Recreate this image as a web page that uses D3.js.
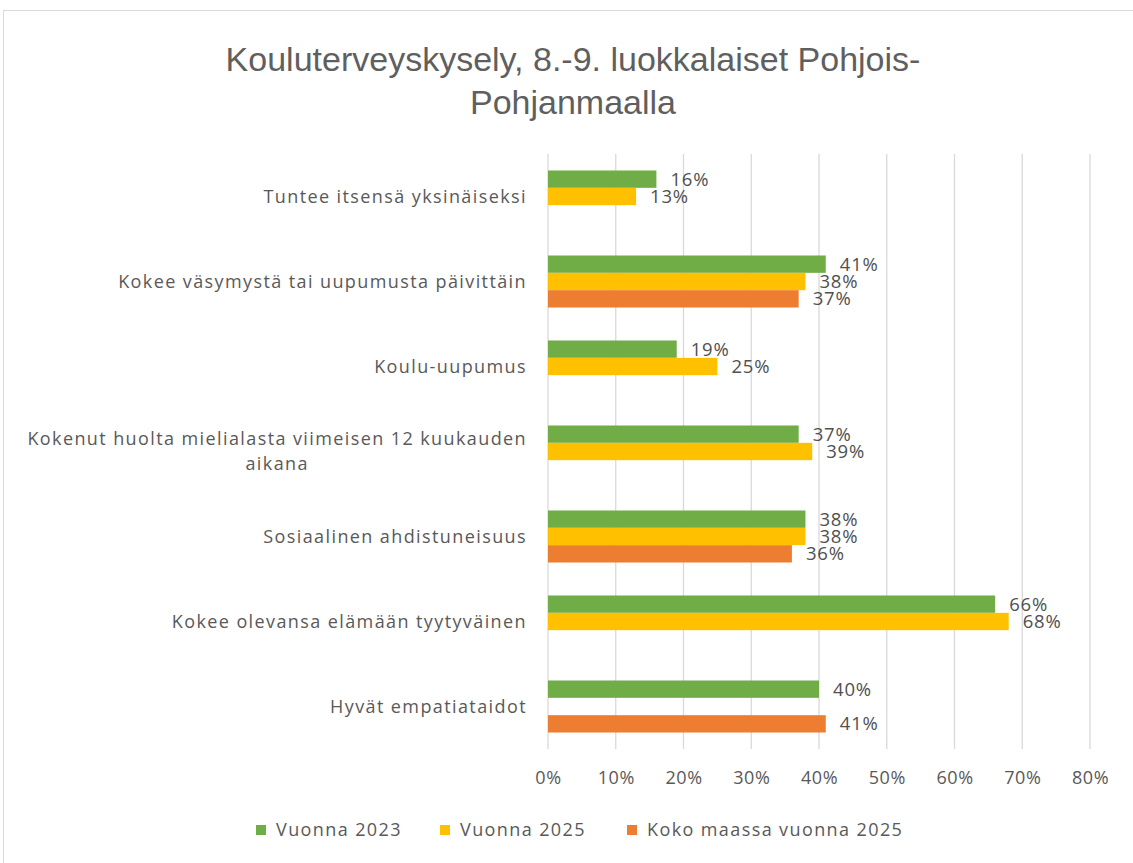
<!DOCTYPE html>
<html><head><meta charset="utf-8">
<script src="https://cdn.jsdelivr.net/npm/d3@7"></script>
<style>body{margin:0;background:#fff;} svg{display:block;}</style>
</head><body>
<svg id="chart" width="1133" height="863"></svg>
<script>
const titleLines = ["Kouluterveyskysely, 8.-9. luokkalaiset Pohjois-", "Pohjanmaalla"];
const categories = [
  ["Tuntee itsensä yksinäiseksi"],
  ["Kokee väsymystä tai uupumusta päivittäin"],
  ["Koulu-uupumus"],
  ["Kokenut huolta mielialasta viimeisen 12 kuukauden", "aikana"],
  ["Sosiaalinen ahdistuneisuus"],
  ["Kokee olevansa elämään tyytyväinen"],
  ["Hyvät empatiataidot"]
];
const seriesNames = ["Vuonna 2023", "Vuonna 2025", "Koko maassa vuonna 2025"];
const v2023 = [16, 41, 19, 37, 38, 66, 40];
const v2025 = [13, 38, 25, 39, 38, 68, null];
const koko2025 = [null, 37, null, null, 36, null, 41];
const xTicks = [0, 10, 20, 30, 40, 50, 60, 70, 80];
const colors = ["#70AD47", "#FFC000", "#ED7D31"];

const svg = d3.select("#chart");
const textCol = "#595959";
const font = "'Open Sans', sans-serif";

// chart border
svg.append("rect").attr("x", 3.5).attr("y", 10.5).attr("width", 1140).attr("height", 870)
  .attr("fill", "none").attr("stroke", "#d9d9d9").attr("stroke-width", 1);

// title
svg.append("g").selectAll("text").data(titleLines).join("text")
  .attr("x", 573).attr("y", (d, i) => 71 + i * 43)
  .attr("text-anchor", "middle")
  .attr("font-family", "'Liberation Sans Narrow', 'Arial Narrow', sans-serif")
  .attr("font-size", 34).attr("fill", "#5f5f5f")
  .text(d => d);

const plot = {left: 548, right: 1090, top: 154, bottom: 749};
const x = d3.scaleLinear().domain([0, 80]).range([plot.left, plot.right]);
const idx = categories.map((d, i) => i);
const y = d3.scaleBand().domain(idx).range([plot.top, plot.bottom]).paddingInner(0.388).paddingOuter(0.194);
const yS = d3.scaleBand().domain([0, 1, 2]).range([0, y.bandwidth()]);

// grid
svg.append("g").selectAll("line").data(xTicks).join("line")
  .attr("x1", d => x(d)).attr("x2", d => x(d))
  .attr("y1", plot.top).attr("y2", plot.bottom)
  .attr("stroke", "#d9d9d9").attr("stroke-width", 1.3);

// x axis labels
const xAxis = d3.axisBottom(x).tickValues(xTicks).tickFormat(d => d + "%").tickSize(0).tickPadding(0);
const gx = svg.append("g").attr("transform", `translate(0,${plot.bottom + 22})`).call(xAxis);
gx.select(".domain").remove();
gx.selectAll("text").attr("font-family", font).attr("font-size", 18).attr("letter-spacing", 0.6)
  .attr("fill", textCol);

// bars
const allSeries = [v2023, v2025, koko2025];
const flat = [];
allSeries.forEach((s, si) => s.forEach((v, ci) => { if (v !== null) flat.push({si, ci, v}); }));
svg.append("g").selectAll("rect").data(flat).join("rect")
  .attr("x", x(0))
  .attr("y", d => y(d.ci) + yS(d.si))
  .attr("width", d => x(d.v) - x(0))
  .attr("height", yS.bandwidth())
  .attr("fill", d => colors[d.si]);

// data labels
svg.append("g").selectAll("text").data(flat).join("text")
  .attr("x", d => x(d.v) + 14)
  .attr("y", d => y(d.ci) + yS(d.si) + yS.bandwidth() / 2)
  .attr("dy", "0.35em")
  .attr("font-family", font).attr("font-size", 18.5).attr("letter-spacing", 0.8)
  .attr("fill", "#505050")
  .text(d => d.v + "%");

// category labels
const cg = svg.append("g");
categories.forEach((lines, i) => {
  const cy = y(i) + y.bandwidth() / 2;
  const lh = 25;
  const t = cg.append("g");
  const texts = t.selectAll("text").data(lines).join("text")
    .attr("y", (d, j) => cy + (j - (lines.length - 1) / 2) * lh)
    .attr("dy", "0.35em")
    .attr("text-anchor", "middle")
    .attr("font-family", font).attr("font-size", 18).attr("letter-spacing", 1.4)
    .attr("fill", textCol)
    .text(d => d);
  let maxW = 0;
  texts.each(function () { maxW = Math.max(maxW, this.getComputedTextLength()); });
  texts.attr("x", 527 - maxW / 2);
});

// legend
const legendX = [256, 440, 627];
const lg = svg.append("g").selectAll("g").data(seriesNames).join("g")
  .attr("transform", (d, i) => `translate(${legendX[i]},830)`);
lg.append("rect").attr("x", 0).attr("y", -5).attr("width", 10).attr("height", 10).attr("fill", (d, i) => colors[i]);
lg.append("text").attr("x", 20).attr("dy", "0.35em")
  .attr("font-family", font).attr("font-size", 18).attr("letter-spacing", 1.4)
  .attr("fill", textCol).text(d => d);
</script>
</body></html>
